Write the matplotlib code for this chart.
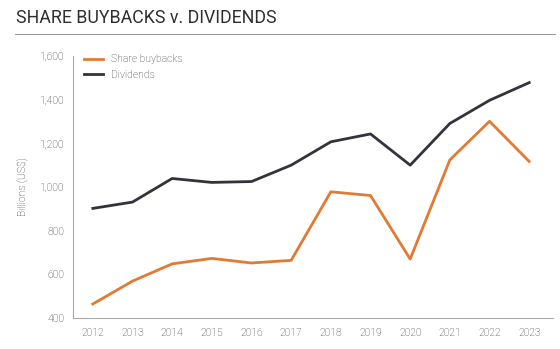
import matplotlib.pyplot as plt

# yearly totals, billions US$
years = [2012, 2013, 2014, 2015, 2016, 2017, 2018, 2019, 2020, 2021, 2022, 2023]
buybacks = [464, 569, 648, 673, 652, 664, 978, 961, 670, 1124, 1301, 1117]
dividends = [902, 931, 1039, 1021, 1025, 1100, 1207, 1243, 1100, 1291, 1397, 1478]
yticks = [400, 600, 800, 1000, 1200, 1400, 1600]

plt.rcParams['font.family'] = ['Roboto', 'DejaVu Sans']
plt.rcParams['font.weight'] = 'light'

fig = plt.figure(figsize=(5.6, 3.49), dpi=100)
fig.text(16 / 560, 1 - 18 / 349, 'SHARE BUYBACKS v. DIVIDENDS', fontsize=12.8,
         color='#2e2e2e', va='center', ha='left', weight='normal')
fig.add_artist(plt.Line2D([15 / 560, 555 / 560], [1 - 34 / 349, 1 - 34 / 349],
                          color='#9a9a9a', lw=0.8))

ax = fig.add_axes([73 / 560, 1 - 318 / 349, 480 / 560, 262 / 349])
ax.plot(years, buybacks, color='#E27A33', lw=2, label='Share buybacks')
ax.plot(years, dividends, color='#33333D', lw=2, label='Dividends')

ax.set_ylim(400, 1600)
ax.set_xlim(2011.5, 2023.6)
ax.set_yticks(yticks)
ax.set_yticklabels([f'{v:,}' for v in yticks])
ax.set_xticks(years)
ax.tick_params(length=0, labelsize=7.5, colors='#333333', pad=6)
ax.tick_params(axis='x', pad=7)
for s in ['top', 'right']:
    ax.spines[s].set_visible(False)
for s in ['left', 'bottom']:
    ax.spines[s].set_color('#aaaaaa')
    ax.spines[s].set_linewidth(0.8)

ax.set_ylabel('Billions (US$)', fontsize=7.5, color='#333333', labelpad=9,
              weight='light')
ax.legend(loc='upper left', frameon=False, fontsize=7.5, handlelength=1.8,
          labelcolor='#333333', borderaxespad=0.2, bbox_to_anchor=(0.01, 1.03))

fig.savefig('out.png', dpi=100)
